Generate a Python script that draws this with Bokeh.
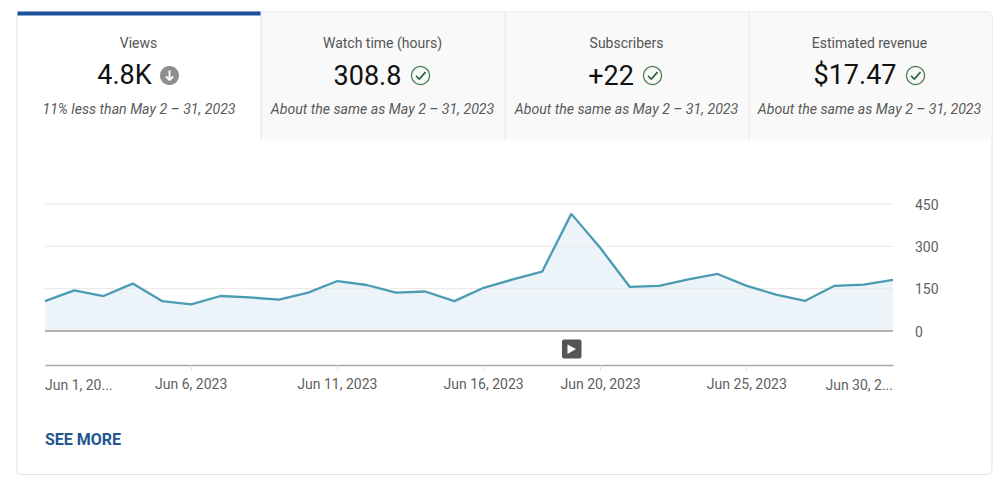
import math

import pandas as pd
from bokeh.embed import file_html
from bokeh.models import BoxAnnotation, ColumnDataSource, FixedTicker, Label, PolyAnnotation, Range1d
from bokeh.plotting import figure
from bokeh.resources import INLINE

# data
dates = pd.date_range("2023-06-01", "2023-06-30", freq="D")
views = [106, 144, 124, 168, 106, 94, 124, 119, 111, 136,
         177, 163, 136, 140, 106, 153, 183, 210, 415, 293,
         156, 160, 183, 202, 160, 129, 107, 160, 164, 181]
y_ticks = [0, 150, 300, 450]
tick_days = ["2023-06-06", "2023-06-11", "2023-06-16", "2023-06-20", "2023-06-25"]
tick_labels = ["Jun 6, 2023", "Jun 11, 2023", "Jun 16, 2023", "Jun 20, 2023", "Jun 25, 2023"]
first_label = "Jun 1, 20..."
last_label = "Jun 30, 2..."

tab_titles = ["Views", "Watch time (hours)", "Subscribers", "Estimated revenue"]
tab_values = ["4.8K", "308.8", "+22", "$17.47"]
tab_notes = ["11% less than May 2 – 31, 2023", "About the same as May 2 – 31, 2023",
             "About the same as May 2 – 31, 2023", "About the same as May 2 – 31, 2023"]

W, H = 996, 485
FONT = "Roboto"


def ms(d):
    return pd.Timestamp(d).timestamp() * 1000


def box(p, left, right, top, bottom, fill, line=None, radius=0):
    p.add_layout(BoxAnnotation(left=left, right=right, top=top, bottom=bottom,
                               left_units="canvas", right_units="canvas", top_units="canvas", bottom_units="canvas",
                               fill_color=fill, fill_alpha=1 if fill else 0, line_color=line, line_width=1,
                               line_alpha=1 if line else 0, border_radius=radius))


def poly(p, xs, ys, fill=None, line=None, width=1.0):
    p.add_layout(PolyAnnotation(xs=list(xs), ys=list(ys), xs_units="canvas", ys_units="canvas",
                                fill_color=fill, fill_alpha=1 if fill else 0,
                                line_color=line, line_alpha=1 if line else 0, line_width=width))


def text(p, x, y, s, size, color, align="center", style="normal"):
    p.add_layout(Label(x=x, y=y, x_units="canvas", y_units="canvas", text=s,
                       text_font=FONT, text_font_size=f"{size}px", text_color=color,
                       text_align=align, text_baseline="middle", text_font_style=style))


def circle_xy(cx, cy, r):
    angles = [2 * math.pi * i / 40 for i in range(40)]
    return [cx + r * math.cos(a) for a in angles], [cy + r * math.sin(a) for a in angles]


def check_icon(p, cx, cy):
    xs, ys = circle_xy(cx, cy, 9)
    poly(p, xs, ys, fill="#f6faf6", line="#4f7f58", width=1.3)
    poly(p, [cx - 4.5, cx - 1.2, cx + 5, cx - 1.2], [cy + 0.3, cy + 3.6, cy - 3.4, cy + 3.6], line="#2f5f3a", width=1.6)


def down_icon(p, cx, cy):
    xs, ys = circle_xy(cx, cy, 9.5)
    poly(p, xs, ys, fill="#8e8e90")
    poly(p, [cx, cx], [cy - 5, cy + 4.5], line="#ffffff", width=2)
    poly(p, [cx - 3.6, cx, cx + 3.6, cx], [cy + 0.8, cy + 4.6, cy + 0.8, cy + 4.6], line="#ffffff", width=1.8)


df = pd.DataFrame({"date": dates, "views": views})
source = ColumnDataSource(df)

# the frame fills the figure, so the ranges are set from where the plot sits on the page
PLOT_LEFT, PLOT_RIGHT, ZERO_Y, TOP_Y, AXIS_Y = 44.5, 892.5, 330.5, 203.5, 365
ms_per_px = (ms(dates[-1]) - ms(dates[0])) / (PLOT_RIGHT - PLOT_LEFT)
units_per_px = y_ticks[-1] / (ZERO_Y - TOP_Y)

p = figure(x_axis_type="datetime", width=W, height=H, output_backend="svg", toolbar_location=None,
           y_axis_location="right", min_border=0)
p.x_range = Range1d(ms(dates[0]) - PLOT_LEFT * ms_per_px, ms(dates[0]) + (W - PLOT_LEFT) * ms_per_px)
p.y_range = Range1d((ZERO_Y - H) * units_per_px, ZERO_Y * units_per_px)
p.outline_line_color = None
p.background_fill_color = "white"
p.border_fill_color = "white"
p.xgrid.visible = False
p.ygrid.visible = False

p.varea("date", y1=0, y2="views", source=source, fill_color="#ecf4f9")
p.segment(x0=[dates[0]] * 3, x1=[dates[-1]] * 3, y0=y_ticks[1:], y1=y_ticks[1:], line_color="#e8e8e8", line_width=1)
p.segment(x0=[dates[0]], x1=[dates[-1]], y0=[0], y1=[0], line_color="#b2b2b2", line_width=2)
p.line("date", "views", source=source, line_color="#4b9bb3", line_width=2.3)

# axes
tick_ms = [ms(d) for d in tick_days]
p.xaxis.fixed_location = (ZERO_Y - AXIS_Y) * units_per_px
p.xaxis.bounds = (ms(dates[0]), ms(dates[-1]))
p.xaxis.ticker = FixedTicker(ticks=tick_ms)
p.xaxis.major_label_overrides = dict(zip(tick_ms, tick_labels))
p.xaxis.axis_line_color = "#a8a8a8"
p.xaxis.axis_line_width = 1.5
p.xaxis.major_tick_line_color = "#e2e2e2"
p.xaxis.major_tick_in = 0
p.xaxis.major_tick_out = 5
p.xaxis.minor_tick_line_color = None
p.xaxis.major_label_standoff = 5
p.xaxis.major_label_text_font = FONT
p.xaxis.major_label_text_font_size = "14px"
p.xaxis.major_label_text_color = "#5f5f5f"

p.yaxis.fixed_location = ms(dates[-1])
p.yaxis.ticker = FixedTicker(ticks=y_ticks)
p.yaxis.axis_line_color = None
p.yaxis.major_tick_line_color = None
p.yaxis.minor_tick_line_color = None
p.yaxis.major_label_standoff = 16
p.yaxis.major_label_text_font = FONT
p.yaxis.major_label_text_font_size = "14px"
p.yaxis.major_label_text_color = "#5f5f5f"

# edge labels are cut short and aligned to the plot ends
for day, lab, align in [(dates[0], first_label, "left"), (dates[-1], last_label, "right")]:
    p.add_layout(Label(x=ms(day), y=384, x_units="data", y_units="canvas", text=lab, text_align=align,
                       text_baseline="middle", text_font=FONT, text_font_size="14px", text_color="#5f5f5f"))

# card and tabs
box(p, 16.5, 991.5, 11.5, 474, None, line="#e2e2e2", radius=4)
box(p, 260, 991, 12, 139, "#f9f9f9")
for x in [260, 504, 748]:
    box(p, x, x + 1.5, 12, 139, "#ebebeb")
box(p, 17, 260, 11, 15, "#1c4f9c")

title_x = [138, 382, 626, 869]
value_x = [124, 367, 610.5, 854.5]
icon_x = [169, 420, 652, 915]
for i in range(4):
    text(p, title_x[i], 42.5, tab_titles[i], 14, "#555555")
    text(p, value_x[i], 74, tab_values[i], 27, "#111111")
    text(p, title_x[i] if i else 138.5, 108.5, tab_notes[i], 14.15, "#5a5a5a", style="italic")
    if i == 0:
        down_icon(p, icon_x[i], 75)
    else:
        check_icon(p, icon_x[i], 75)

# play button under the peak
box(p, 561.5, 581, 339, 358, "#555555", radius=2)
poly(p, [567, 567, 575.5], [344, 353.5, 348.5], fill="#ffffff")

text(p, 44.5, 438.5, "SEE MORE", 16, "#23558f", align="left", style="bold")

open("out.html", "w").write(file_html(p, INLINE))
